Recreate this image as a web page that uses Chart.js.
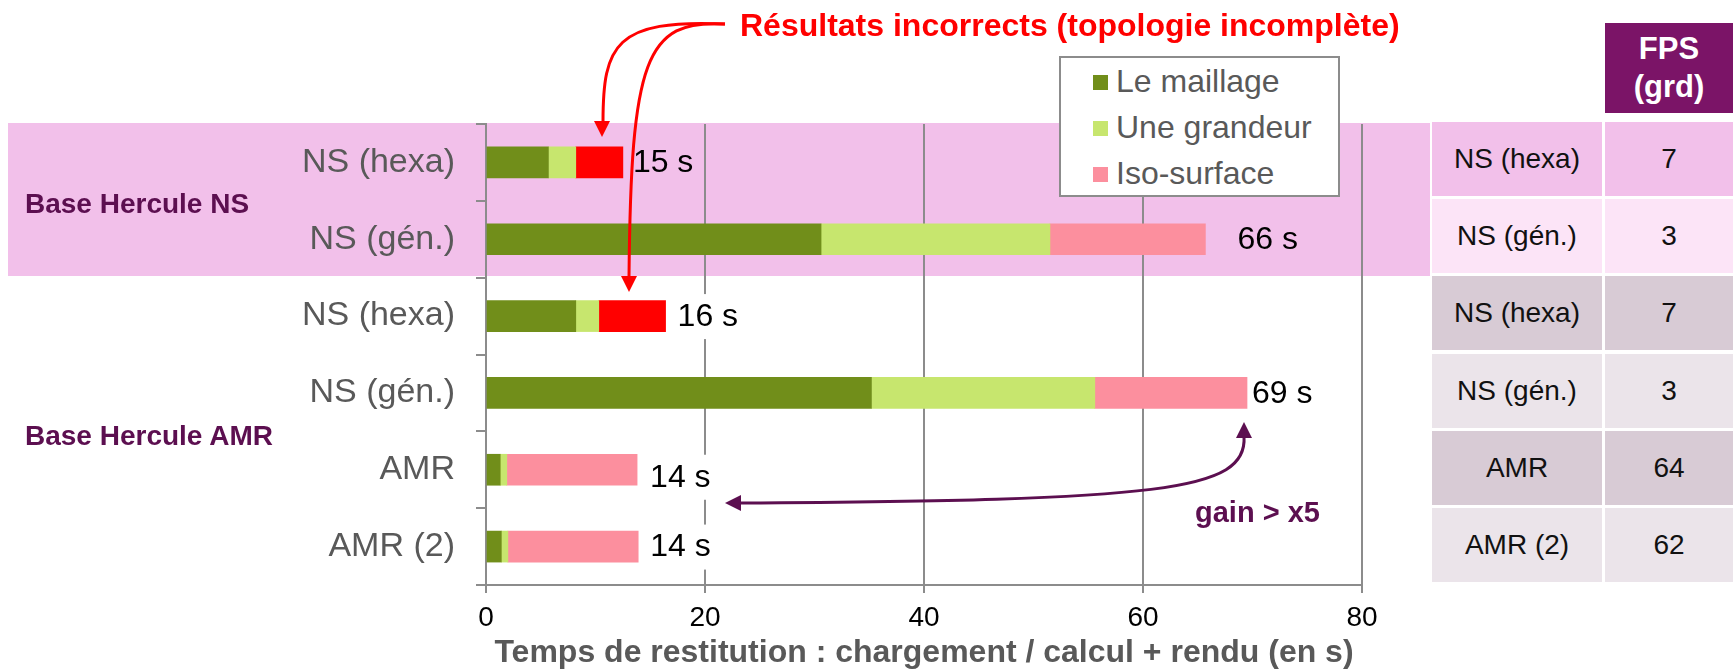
<!DOCTYPE html>
<html lang="fr">
<head>
<meta charset="utf-8">
<title>Temps de restitution</title>
<script src="https://cdn.jsdelivr.net/npm/chart.js@4/dist/chart.umd.min.js"></script>
<style>
  body { margin: 0; background: #fff; font-family: 'Liberation Sans', Arial, sans-serif; }
  #wrap { position: relative; width: 1736px; height: 672px; overflow: hidden; }
  #chart { position: absolute; left: 0; top: 0; }
  .txt { position: absolute; white-space: nowrap; }
  .group { color: #5c0f50; font-weight: bold; font-size: 28px; line-height: 32px; }
  #warn { left: 740px; top: 7px; color: #ff0000; font-weight: bold; font-size: 32px; line-height: 36px; }
  #gain { left: 1195px; top: 496px; color: #5c0f50; font-weight: bold; font-size: 29px; line-height: 32px; }
  #legend { position: absolute; left: 1059px; top: 56px; width: 281px; height: 141px; box-sizing: border-box;
            border: 2px solid #8c8c8c; background: #fff; }
  .leg { position: absolute; left: 32px; height: 34px; line-height: 34px; font-size: 32px; color: #595959; }
  .leg i { display: inline-block; width: 15px; height: 15px; margin-right: 8px; vertical-align: 2px; }
  .cell { position: absolute; display: flex; align-items: center; justify-content: center;
          font-size: 28px; color: #111; }
  #fpsHead { position: absolute; left: 1605px; top: 23px; width: 128px; height: 90px; background: #7b1467;
             color: #fff; font-weight: bold; font-size: 31px; line-height: 38px; text-align: center;
             display: flex; flex-direction: column; justify-content: center; }
</style>
</head>
<body>
<div id="wrap">
  <canvas id="chart" width="1736" height="672"></canvas>
  <div class="txt group" style="left:25px;top:188px;">Base Hercule NS</div>
  <div class="txt group" style="left:25px;top:420px;">Base Hercule AMR</div>
  <div class="txt" id="warn">Résultats incorrects (topologie incomplète)</div>
  <div class="txt" id="gain">gain &gt; x5</div>
  <div id="legend"></div>
  <div id="fpsHead"><span>FPS</span><span>(grd)</span></div>
  <div id="table"></div>
</div>
<script>
// ---- data ----
const categories = ['NS (hexa)', 'NS (gén.)', 'NS (hexa)', 'NS (gén.)', 'AMR', 'AMR (2)'];
const seriesNames = ['Le maillage', 'Une grandeur', 'Iso-surface'];
const maillage   = [5.7, 30.6, 8.2, 35.2, 1.3, 1.4];
const grandeur   = [2.5, 20.9, 2.1, 20.4, 0.6, 0.6];
const isoSurface = [4.3, 14.2, 6.1, 13.9, 11.9, 11.9];
const incorrect  = [true, false, true, false, false, false];   // topologie incomplète
const totalLabels = ['15 s', '66 s', '16 s', '69 s', '14 s', '14 s'];
const xTicks = [0, 20, 40, 60, 80];

const fpsLabels = ['NS (hexa)', 'NS (gén.)', 'NS (hexa)', 'NS (gén.)', 'AMR', 'AMR (2)'];
const fpsValues = [7, 3, 7, 3, 64, 62];

// ---- styles ----
const FONT = "'Liberation Sans', Arial, sans-serif";
const GREEN = '#718e1a', LIGHT = '#c7e66e', PINK = '#fc8f9e', RED = '#ff0000';
const BAND = '#f2c0ea';
const GRID = '#8c8c8c';
const PURPLE = '#5c0f50';
const rowColors = ['#f2c0ea', '#fce4f7', '#d8cbd5', '#ebe4ea', '#d8cbd5', '#ebe4ea'];
const labelGap = [10, 32, 12, 5, 13, 12];
const labelDy  = [0, 0, 0, 0, 7, 0];

// legend (custom, floating over the plot)
const legendColors = [GREEN, LIGHT, PINK];
document.getElementById('legend').innerHTML = seriesNames.map((n, i) =>
  `<div class="leg" style="top:${6 + i * 46}px"><i style="background:${legendColors[i]}"></i>${n}</div>`
).join('');

// FPS table
document.getElementById('table').innerHTML = fpsLabels.map((n, i) => {
  const top = 122 + i * 77.2;
  return `<div class="cell" style="left:1432px;top:${top}px;width:170px;height:74px;background:${rowColors[i]}">${n}</div>` +
         `<div class="cell" style="left:1605px;top:${top}px;width:128px;height:74px;background:${rowColors[i]}">${fpsValues[i]}</div>`;
}).join('');

// pink band behind the "Base Hercule NS" rows
const bandPlugin = {
  id: 'band',
  beforeDraw(chart) {
    const c = chart.ctx;
    c.save();
    c.fillStyle = BAND;
    c.fillRect(8, 123, 1422, 153);
    c.restore();
  }
};

// "15 s" etc. at the end of each stack
const totalsPlugin = {
  id: 'totals',
  afterDatasetsDraw(chart) {
    const c = chart.ctx;
    const meta = chart.getDatasetMeta(2);
    c.save();
    c.font = `32px ${FONT}`;
    c.textBaseline = 'middle';
    meta.data.forEach((bar, i) => {
      const x = bar.x + labelGap[i];
      const y = bar.y + labelDy[i];
      const w = c.measureText(totalLabels[i]).width;
      c.fillStyle = i < 2 ? BAND : '#fff';
      c.fillRect(x - 4, y - 22, w + 10, 45);
      c.fillStyle = '#000';
      c.fillText(totalLabels[i], x, y + 1);
    });
    c.restore();
  }
};

function arrowHead(c, x, y, ang, len, half) {
  c.beginPath();
  c.moveTo(x, y);
  c.lineTo(x - len * Math.cos(ang) + half * Math.sin(ang), y - len * Math.sin(ang) - half * Math.cos(ang));
  c.lineTo(x - len * Math.cos(ang) - half * Math.sin(ang), y - len * Math.sin(ang) + half * Math.cos(ang));
  c.closePath();
  c.fill();
}

const arrowsPlugin = {
  id: 'arrows',
  afterDraw(chart) {
    const c = chart.ctx;
    c.save();
    c.lineWidth = 3;
    // red arrows from the warning title
    c.strokeStyle = RED; c.fillStyle = RED;
    c.beginPath();
    c.moveTo(725, 24);
    c.bezierCurveTo(615, 19, 603, 45, 603, 122);
    c.stroke();
    arrowHead(c, 602, 137, Math.PI / 2, 16, 8);
    c.beginPath();
    c.moveTo(725, 24);
    c.bezierCurveTo(645, 19, 631, 60, 629, 277);
    c.stroke();
    arrowHead(c, 629, 292, Math.PI / 2, 16, 8);
    // purple "gain" arrow
    c.strokeStyle = PURPLE; c.fillStyle = PURPLE;
    c.beginPath();
    c.moveTo(1244, 436);
    c.bezierCurveTo(1248, 492, 1160, 500, 740, 503);
    c.stroke();
    arrowHead(c, 1244, 422, -Math.PI / 2, 16, 8);
    arrowHead(c, 725, 503, Math.PI, 16, 8);
    c.restore();
  }
};

const ctx = document.getElementById('chart').getContext('2d');
new Chart(ctx, {
  type: 'bar',
  data: {
    labels: categories,
    datasets: [
      { label: seriesNames[0], data: maillage, backgroundColor: GREEN, barThickness: 31 },
      { label: seriesNames[1], data: grandeur, backgroundColor: LIGHT, barThickness: 31 },
      { label: seriesNames[2], data: isoSurface, backgroundColor: incorrect.map(f => f ? RED : PINK), barThickness: 31 },
    ],
  },
  options: {
    indexAxis: 'y',
    responsive: false,
    animation: false,
    devicePixelRatio: 1,
    layout: { padding: { top: 124, right: 374, bottom: 0, left: 0 } },
    plugins: {
      legend: { display: false },
      tooltip: { enabled: false },
    },
    scales: {
      x: {
        stacked: true,
        min: xTicks[0],
        max: xTicks[xTicks.length - 1],
        afterBuildTicks: s => { s.ticks = xTicks.map(v => ({ value: v })); },
        ticks: { color: '#000', font: { size: 28, family: FONT }, padding: 8 },
        grid: { color: GRID, lineWidth: 2, tickLength: 8 },
        border: { color: GRID, width: 2 },
        title: {
          display: true,
          text: 'Temps de restitution : chargement / calcul + rendu (en s)',
          color: '#595959',
          font: { size: 32, weight: 'bold', family: FONT },
          padding: { top: 0, bottom: 0 },
        },
        afterFit: s => { s.height = 87; },
      },
      y: {
        stacked: true,
        ticks: { color: '#595959', font: { size: 34, family: FONT }, padding: 21 },
        grid: { offset: true, drawOnChartArea: false, color: GRID, lineWidth: 2, tickLength: 10 },
        border: { color: GRID, width: 2 },
        afterFit: s => { s.width = 486; },
      },
    },
  },
  plugins: [bandPlugin, totalsPlugin, arrowsPlugin],
});
</script>
</body>
</html>
